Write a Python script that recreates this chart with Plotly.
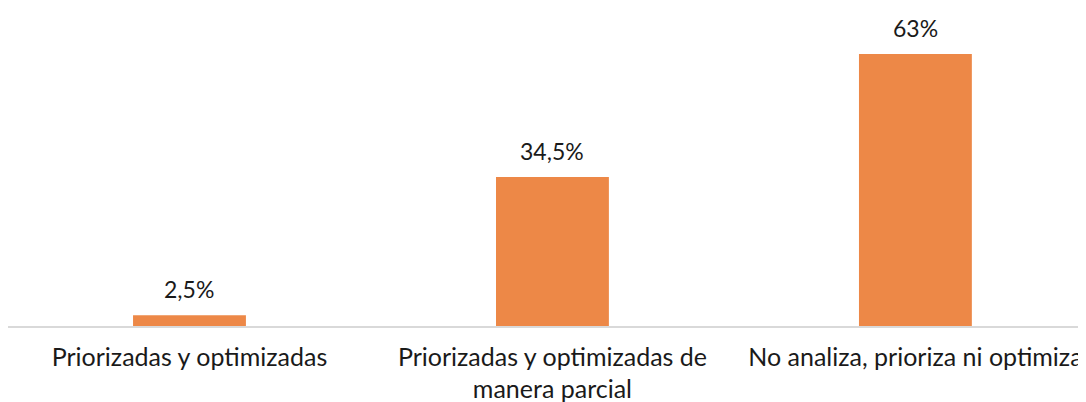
import plotly.graph_objects as go

categories = ["Priorizadas y optimizadas",
              "Priorizadas y optimizadas de<br>manera parcial",
              "No analiza, prioriza ni optimiza"]
values = [2.5, 34.5, 63]
value_labels = ["2,5%", "34,5%", "63%"]

bar_color = "#ED8847"
font_family = "Lato, 'Open Sans', sans-serif"

fig = go.Figure(go.Bar(x=categories, y=values, marker={'color': bar_color, 'line': {'width': 0}},
                       hoverinfo='none'))

# value labels sit above each bar
for cat, val, lab in zip(categories, values, value_labels):
    fig.add_annotation(x=cat, y=val, text=lab, showarrow=False, yshift=26,
                       font={'size': 23, 'color': '#1a1a1a', 'family': font_family})

# page body has an 8px margin, so the figure is trimmed to keep the plot where it belongs
fig.update_layout(width=1078, height=394,
                  margin={'l': 0, 'r': 0, 't': 0, 'b': 76},
                  paper_bgcolor='white', plot_bgcolor='white',
                  bargap=0.689, showlegend=False,
                  font={'family': font_family, 'size': 25, 'color': '#1a1a1a'})
fig.update_xaxes(range=[-0.5, 2.47], showline=True, linecolor='#d9d9d9', linewidth=1.5,
                 ticks='', showgrid=False, automargin=False, tickfont={'size': 25},
                 ticklabelstandoff=8)
fig.update_yaxes(range=[0, 73.66], visible=False, showgrid=False, automargin=False)

fig.write_html("out.html")
